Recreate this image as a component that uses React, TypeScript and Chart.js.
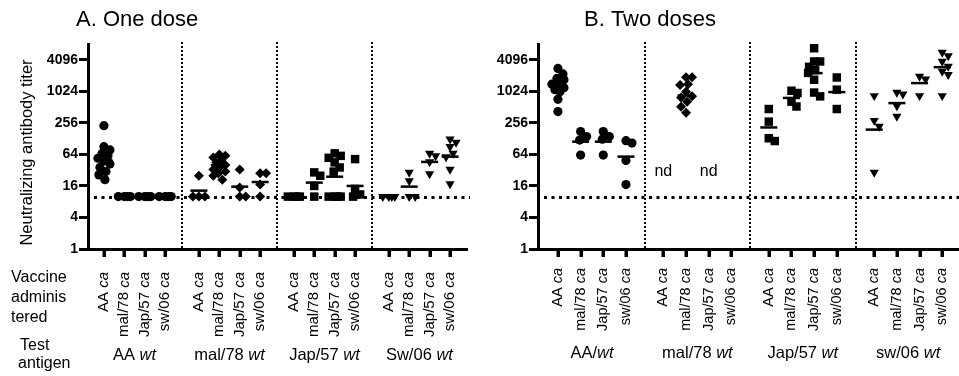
import React, { useEffect, useRef, useState } from 'react';
import { Chart, registerables } from 'chart.js';
Chart.register(...registerables);

const FONT = '"Liberation Sans", Arial, Helvetica, sans-serif';
Chart.defaults.font.family = FONT;

// ---------- axis / labels ----------
const Y_TICKS = [1, 4, 16, 64, 256, 1024, 4096];
const Y_MIN = 1;
const Y_MAX = 8192;
const DETECTION_LIMIT = 10;
const ND_LEVEL = 30;
const VACCINES = ['AA ', 'mal/78 ', 'Jap/57 ', 'sw/06 '];
const VACCINE_SUFFIX = 'ca';
const ANTIGENS_A = ['AA ', 'mal/78 ', 'Jap/57 ', 'Sw/06 '];
const ANTIGENS_B = ['AA/', 'mal/78 ', 'Jap/57 ', 'sw/06 '];
const ANTIGEN_SUFFIX = 'wt';
const TITLE_A = 'A. One dose';
const TITLE_B = 'B. Two doses';
const Y_TITLE = 'Neutralizing antibody titer';
const ROW_LABEL_VACCINE = ['Vaccine', 'adminis', 'tered'];
const ROW_LABEL_ANTIGEN = ['Test', 'antigen'];

// ---------- Panel A: one dose (per test antigen, per vaccine column) ----------
const A_AA_WT = [
  [226, 90, 78, 66, 60, 54, 48, 42, 36, 30, 26, 21],
  [10, 10, 10, 10],
  [10, 10, 10, 10],
  [10, 10, 10, 10],
];
const A_AA_WT_MEAN = [50, 10, 10, 10];
const A_MAL_WT = [
  [25, 10, 10, 10],
  [64, 60, 56, 50, 45, 40, 36, 33, 30, 28, 25, 21],
  [33, 15, 10, 10],
  [28, 28, 17, 10],
];
const A_MAL_WT_MEAN = [13, 40, 15.5, 19];
const A_JAP_WT = [
  [10, 10, 10, 10],
  [29, 25, 16, 10],
  [67, 60, 55, 45, 36, 30, 10, 10, 10, 10],
  [52, 14, 11, 10],
];
const A_JAP_WT_MEAN = [10, 18.5, 24, 16];
const A_SW_WT = [
  [10, 10, 10, 10],
  [29, 20, 10, 10],
  [67, 60, 46, 27],
  [125, 108, 90, 67, 57, 33, 17.5],
];
const A_SW_WT_MEAN = [10, 15.5, 46, 58];

// ---------- Panel B: two doses ----------
const B_AA_WT = [
  [2800, 2200, 1800, 1700, 1400, 1350, 1200, 1100, 1000, 720, 420],
  [175, 140, 120, 62],
  [175, 140, 125, 62],
  [117, 105, 49, 17],
];
const B_AA_WT_MEAN = [1270, 112, 112, 58];
const B_MAL_WT = [
  null,
  [1900, 1900, 1400, 1350, 1000, 820, 780, 650, 520, 400],
  null,
  [],
];
const B_MAL_WT_MEAN = [null, 850, null, null];
const B_JAP_WT = [
  [470, 270, 130, 115],
  [1050, 950, 650, 525],
  [6800, 3800, 3800, 3000, 2600, 2300, 1700, 970, 820],
  [1880, 1100, 470],
];
const B_JAP_WT_MEAN = [209, 765, 2280, 990];
const B_SW_WT = [
  [840, 283, 218, 29],
  [975, 905, 540, 338],
  [1970, 1750, 840],
  [5650, 4870, 3800, 3050, 2450, 2120, 840],
];
const B_SW_WT_MEAN = [190, 610, 1470, 2960];

// ---------- styling ----------
const SHAPES = ['circle', 'rectRot', 'rect', 'triangle'];
const RADII = [4.6, 5, 6, 5.3];
const ROTATIONS = [0, 0, 0, 180];
const DIAMS = [9, 9, 8.5, 9];
const GROUP_PERIOD = 4.65;
const PX_PER_LOG2 = 205 / 13;

const pos = (g: number, i: number) => g * GROUP_PERIOD + i;
const SEPARATORS = [0, 1, 2].map((g) => g * GROUP_PERIOD + 3 + (GROUP_PERIOD - 3) / 2);
const COL_POSITIONS: number[] = [];
for (let g = 0; g < 4; g++) for (let i = 0; i < 4; i++) COL_POSITIONS.push(pos(g, i));

function swarm(values: number[], pxPerUnit: number, diam: number): number[] {
  const maxHalf = 6;
  const idx = values.map((_, i) => i).sort((a, b) => values[b] - values[a]);
  const placed: { x: number; y: number }[] = [];
  const out = new Array(values.length).fill(0);
  for (const i of idx) {
    const y = Math.log2(values[i]) * PX_PER_LOG2;
    let best = 0;
    let bestScore = -1;
    for (let k = 0; k <= maxHalf * 2; k++) {
      const dx = k === 0 ? 0 : k % 2 === 1 ? (k + 1) / 2 : -k / 2;
      let minD = Infinity;
      for (const p of placed) minD = Math.min(minD, Math.hypot(p.x - dx, p.y - y));
      if (minD >= diam * 0.8) {
        best = dx;
        break;
      }
      if (minD > bestScore) {
        bestScore = minD;
        best = dx;
      }
    }
    placed.push({ x: best, y });
    out[i] = best / pxPerUnit;
  }
  return out;
}

type PanelCfg = {
  key: string;
  left: number;
  width: number;
  yAxisWidth: number;
  plotRight: number;
  xMin: number;
  xMax: number;
  pxPerUnit: number;
  groups: (number[] | null)[][];
  means: (number | null)[][];
  antigens: string[];
  title: string;
  titleX: number;
  yTitle: boolean;
  rowLabels: boolean;
  catTop: number;
  catFont: number;
  groupBaseline: number;
};

const PANELS: PanelCfg[] = [
  {
    key: 'A', left: 0, width: 480, yAxisWidth: 88, plotRight: 467,
    xMin: -0.78, xMax: 17.78, pxPerUnit: 20.42,
    groups: [A_AA_WT, A_MAL_WT, A_JAP_WT, A_SW_WT],
    means: [A_AA_WT_MEAN, A_MAL_WT_MEAN, A_JAP_WT_MEAN, A_SW_WT_MEAN],
    antigens: ANTIGENS_A, title: TITLE_A, titleX: 76, yTitle: true, rowLabels: true,
    catTop: 272, catFont: 15, groupBaseline: 360,
  },
  {
    key: 'B', left: 480, width: 479, yAxisWidth: 58, plotRight: 479,
    xMin: -0.88, xMax: 17.69, pxPerUnit: 22.67,
    groups: [B_AA_WT, B_MAL_WT, B_JAP_WT, B_SW_WT],
    means: [B_AA_WT_MEAN, B_MAL_WT_MEAN, B_JAP_WT_MEAN, B_SW_WT_MEAN],
    antigens: ANTIGENS_B, title: TITLE_B, titleX: 104, yTitle: false, rowLabels: false,
    catTop: 268, catFont: 14.5, groupBaseline: 358,
  },
];

function drawMixed(ctx: CanvasRenderingContext2D, plain: string, ital: string, size: number, x: number, y: number, align: 'left' | 'center' | 'right') {
  ctx.font = `${size}px ${FONT}`;
  const w1 = ctx.measureText(plain).width;
  ctx.font = `italic ${size}px ${FONT}`;
  const w2 = ctx.measureText(ital).width;
  const total = w1 + w2;
  let start = x;
  if (align === 'center') start = x - total / 2;
  if (align === 'right') start = x - total;
  ctx.textAlign = 'left';
  ctx.font = `${size}px ${FONT}`;
  ctx.fillText(plain, start, y);
  ctx.font = `italic ${size}px ${FONT}`;
  ctx.fillText(ital, start + w1, y);
}

function Panel({ cfg }: { cfg: PanelCfg }) {
  const ref = useRef<HTMLCanvasElement>(null);
  const [tickMarks, setTickMarks] = useState<{ xs: number[]; bottom: number }>({ xs: [], bottom: 0 });
  useEffect(() => {
    const canvas = ref.current!;
    const datasets: any[] = [];
    const meanPts: { x: number; y: number }[] = [];
    const ndCols: number[] = [];
    cfg.groups.forEach((group, g) => {
      const pts: { x: number; y: number }[] = [];
      group.forEach((vals, i) => {
        if (vals === null) {
          ndCols.push(pos(g, i));
          return;
        }
        const offs = swarm(vals, cfg.pxPerUnit, DIAMS[g]);
        vals.forEach((v, k) => pts.push({ x: pos(g, i) + offs[k], y: v }));
        const m = cfg.means[g][i];
        if (m != null) meanPts.push({ x: pos(g, i), y: m });
      });
      datasets.push({
        data: pts,
        pointStyle: SHAPES[g],
        pointRadius: RADII[g],
        pointRotation: ROTATIONS[g],
        pointBackgroundColor: '#000',
        pointBorderColor: '#000',
        pointBorderWidth: 0,
        showLine: false,
        clip: false,
      });
    });
    datasets.push({
      data: meanPts,
      pointStyle: 'line',
      pointRadius: 8.5,
      pointBorderWidth: 2.5,
      pointBorderColor: '#000',
      pointBackgroundColor: '#000',
      showLine: false,
      clip: false,
    });

    const deco = {
      id: 'deco',
      beforeDatasetsDraw(chart: any) {
        const { ctx, chartArea } = chart;
        const xs = chart.scales.x;
        const ys = chart.scales.y;
        ctx.save();
        ctx.strokeStyle = '#000';
        ctx.lineWidth = 2;
        ctx.setLineDash([2, 2]);
        SEPARATORS.forEach((s) => {
          const px = Math.round(xs.getPixelForValue(s));
          ctx.beginPath();
          ctx.moveTo(px, chartArea.top - 2);
          ctx.lineTo(px, chartArea.bottom);
          ctx.stroke();
        });
        const ly = Math.round(ys.getPixelForValue(DETECTION_LIMIT)) + 0.5;
        ctx.lineWidth = 3;
        ctx.setLineDash([3, 4.5]);
        ctx.beginPath();
        ctx.moveTo(chartArea.left + 6, ly);
        ctx.lineTo(chartArea.right + 3, ly);
        ctx.stroke();
        ctx.restore();
      },
      afterDraw(chart: any) {
        const { ctx, chartArea } = chart;
        const xs = chart.scales.x;
        const ys = chart.scales.y;
        ctx.save();
        ctx.setLineDash([]);
        ctx.fillStyle = '#000';
        COL_POSITIONS.forEach((p) => {
          const px = Math.round(xs.getPixelForValue(p));
          ctx.fillRect(px - 1.5, chartArea.bottom, 3, 8);
        });
        ctx.font = `22px ${FONT}`;
        ctx.textAlign = 'left';
        ctx.textBaseline = 'alphabetic';
        ctx.fillText(cfg.title, cfg.titleX, 26);
        if (cfg.yTitle) {
          ctx.save();
          ctx.translate(27, 152.5);
          ctx.rotate(-Math.PI / 2);
          ctx.font = `16.5px ${FONT}`;
          ctx.textAlign = 'center';
          ctx.textBaseline = 'middle';
          ctx.fillText(Y_TITLE, 0, 0);
          ctx.restore();
        }
        if (cfg.rowLabels) {
          ctx.font = `16px ${FONT}`;
          ctx.textAlign = 'left';
          ctx.textBaseline = 'alphabetic';
          ROW_LABEL_VACCINE.forEach((t, k) => ctx.fillText(t, 11, 282 + k * 20));
          ctx.fillText(ROW_LABEL_ANTIGEN[0], 20, 350);
          ctx.fillText(ROW_LABEL_ANTIGEN[1], 18, 368);
        }
        COL_POSITIONS.forEach((p, c) => {
          const px = xs.getPixelForValue(p);
          ctx.save();
          ctx.translate(px, cfg.catTop);
          ctx.rotate(-Math.PI / 2);
          ctx.textBaseline = 'middle';
          drawMixed(ctx, VACCINES[c % 4], VACCINE_SUFFIX, cfg.catFont, 0, 0, 'right');
          ctx.restore();
        });
        ctx.textBaseline = 'alphabetic';
        cfg.antigens.forEach((a, g) => {
          const cx = (xs.getPixelForValue(pos(g, 0)) + xs.getPixelForValue(pos(g, 3))) / 2;
          drawMixed(ctx, a, ANTIGEN_SUFFIX, 16.5, cx, cfg.groupBaseline, 'center');
        });
        ctx.font = `16px ${FONT}`;
        ctx.textAlign = 'center';
        ctx.textBaseline = 'middle';
        ndCols.forEach((p) => ctx.fillText('nd', xs.getPixelForValue(p), ys.getPixelForValue(ND_LEVEL)));
        ctx.restore();
      },
    };

    const chart = new Chart(canvas, {
      type: 'scatter',
      data: { datasets },
      options: {
        animation: false,
        responsive: false,
        events: [],
        layout: { autoPadding: false, padding: { top: 44, right: cfg.width - cfg.plotRight, left: 0, bottom: 0 } },
        plugins: { legend: { display: false }, tooltip: { enabled: false } },
        scales: {
          x: {
            type: 'linear',
            min: cfg.xMin,
            max: cfg.xMax,
            afterFit: (s: any) => {
              s.height = 376 - 249;
              s.paddingLeft = 0;
              s.paddingRight = 0;
            },
            ticks: { display: false },
            grid: { display: false },
            border: { display: true, color: '#000', width: 3 },
          },
          y: {
            type: 'logarithmic',
            min: Y_MIN,
            max: Y_MAX,
            afterBuildTicks: (s: any) => {
              s.ticks = Y_TICKS.map((v) => ({ value: v }));
            },
            afterFit: (s: any) => {
              s.width = cfg.yAxisWidth;
            },
            ticks: {
              autoSkip: false,
              padding: 1,
              color: '#000',
              font: { size: 14, weight: 'bold', family: FONT },
              callback: (v: any) => String(v),
            },
            grid: {
              display: true,
              drawOnChartArea: false,
              drawTicks: true,
              tickLength: 9,
              tickWidth: 3,
              tickColor: '#000',
            },
            border: { display: true, color: '#000', width: 3 },
          },
        },
      } as any,
      plugins: [deco],
    });
    // tick-mark overlay positioned from the chart's own x scale
    const xScale: any = chart.scales.x;
    setTickMarks({
      xs: COL_POSITIONS.map((p) => xScale.getPixelForValue(p)),
      bottom: chart.chartArea.bottom,
    });
    return () => chart.destroy();
  }, []);
  return (
    <>
      <canvas
        ref={ref}
        width={cfg.width}
        height={376}
        style={{ position: 'absolute', left: cfg.left, top: 0, width: cfg.width, height: 376 }}
      />
      {tickMarks.xs.map((px, k) => (
        <div
          key={k}
          style={{
            position: 'absolute',
            left: cfg.left + Math.round(px) - 1.5,
            top: tickMarks.bottom,
            width: 3,
            height: 8,
            background: '#000',
            zIndex: 2,
          }}
        />
      ))}
    </>
  );
}

export default function App() {
  return (
    <div style={{ position: 'absolute', left: 0, top: 0, width: 959, height: 376, background: '#fff', overflow: 'hidden' }}>
      {PANELS.map((p) => (
        <Panel key={p.key} cfg={p} />
      ))}
    </div>
  );
}
